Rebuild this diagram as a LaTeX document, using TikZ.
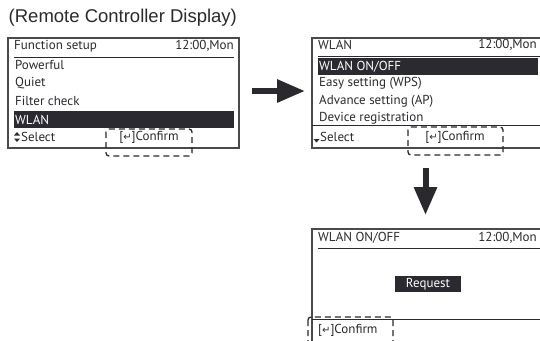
\documentclass[tikz,border=0pt]{standalone}
\usepackage{fontspec}
\setmainfont{PT Sans}
\newfontfamily\titlefont{Liberation Sans}
\newfontfamily\symfont{DejaVu Sans}
\usetikzlibrary{arrows.meta}
\definecolor{ink}{HTML}{2A2A2E}
\definecolor{frame}{HTML}{4A4A4A}
\definecolor{bar}{HTML}{2A2A30}
\tikzset{
  panel/.style={draw=frame, line width=1.2pt},
  rule/.style={draw=ink, line width=1pt},
  hbar/.style={fill=bar},
  txt/.style={font=\fontsize{13}{15}\selectfont, text=ink, inner sep=0pt},
  wtxt/.style={font=\fontsize{13}{15}\selectfont, text=white, inner sep=0pt},
  dbox/.style={draw=ink, line width=1.3pt, dash pattern=on 6pt off 4pt, rounded corners=3pt},
  bigarrow/.style={draw=ink, line width=6pt, -{Triangle[length=28pt,width=22pt]}},
  tri/.style={fill=ink},
}
\newcommand{\conf}{[{\symfont\fontsize{10}{11}\selectfont ↵}]Confirm}
\begin{document}
\begin{tikzpicture}[x=1pt,y=-1pt]
\useasboundingbox (0,0) rectangle (540,340);
\clip (0,0) rectangle (540,340);
% title
\node[anchor=west, inner sep=0pt, font=\titlefont\fontsize{18.5}{20}\selectfont, text=ink] (title) at (8.5,18) {(Remote Controller Display)};

% ---- panel 1
\draw[panel] (8,38) rectangle (239,148);
\node[txt, anchor=west] (p1h) at (14,46) {Function setup};
\node[txt, anchor=east] (p1t) at (234,46) {12:00,Mon};
\draw[rule] (14,57) -- (234,57);
\node[txt, anchor=west] (p1a) at (15,65) {Powerful};
\node[txt, anchor=west] (p1b) at (15,83) {Quiet};
\node[txt, anchor=west] (p1c) at (15,101) {Filter check};
\fill[hbar] (14,111) rectangle (234,128);
\node[wtxt, anchor=west] (p1d) at (15,119.5) {WLAN};
\fill[tri] (14,135.5) -- (20,135.5) -- (17,132) -- cycle;
\fill[tri] (14,138.5) -- (20,138.5) -- (17,142) -- cycle;
\node[txt, anchor=west] (p1s) at (21,137) {Select};
\node[txt] (p1c2) at (149,137) {\conf};
\draw[dbox] (106,129) rectangle (192,156);

% arrow right
\coordinate (a1s) at (252,91);
\coordinate (a1e) at (305,91);
\draw[bigarrow] (a1s) -- (a1e);

% ---- panel 2
\draw[panel] (312,38) rectangle (548,148);
\node[txt, anchor=west] (p2h) at (318,45) {WLAN};
\node[txt, anchor=east] (p2t) at (537,45) {12:00,Mon};
\draw[rule] (318,56) -- (545,56);
\fill[hbar] (318,58) rectangle (538,75);
\node[wtxt, anchor=west] (p2a) at (319,66.5) {WLAN ON/OFF};
\node[txt, anchor=west] (p2b) at (319,83.5) {Easy setting (WPS)};
\node[txt, anchor=west] (p2c) at (319,101) {Advance setting (AP)};
\node[txt, anchor=west] (p2d) at (319,118) {Device registration};
\draw[rule] (312,125) -- (545,125);
\fill[tri] (313.5,139) -- (319.5,139) -- (316.5,142.5) -- cycle;
\node[txt, anchor=west] (p2s) at (320,137) {Select};
\node[txt] (p2c2) at (455,137) {\conf};
\draw[dbox] (408,127) rectangle (503,155);

% arrow down
\coordinate (a2s) at (425.5,168);
\coordinate (a2e) at (425.5,215);
\draw[bigarrow] (a2s) -- (a2e);

% ---- panel 3
\draw[panel] (312,229) rectangle (548,355);
\node[txt, anchor=west] (p3h) at (318,238) {WLAN ON/OFF};
\node[txt, anchor=east] (p3t) at (537,238) {12:00,Mon};
\draw[rule] (318,248) -- (545,248);
\fill[hbar] (395,276) rectangle (461,292);
\node[wtxt] (p3r) at (428,284) {Request};
\draw[rule] (312,319) -- (545,319);
\node[txt, anchor=west] (p3c) at (318,330) {\conf};
\draw[dbox] (308,317) rectangle (393,352);
\end{tikzpicture}
\end{document}
